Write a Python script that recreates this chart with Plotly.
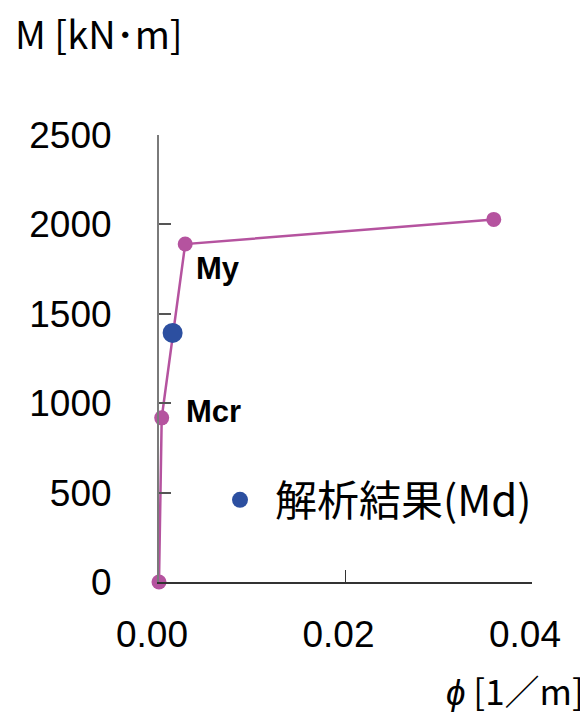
import plotly.graph_objects as go

# Data
phi_model = [0.0, 0.00029, 0.00281, 0.0359]
m_model = [0, 918, 1890, 2028]
phi_analysis = [0.00146]
m_analysis = [1393]
point_labels = ["", "Mcr", "My", ""]
x_ticks = [0.0, 0.02, 0.04]
x_tick_text = ["0.00", "0.02", "0.04"]
y_ticks = [0, 500, 1000, 1500, 2000, 2500]

MAGENTA = "#B5539F"
BLUE = "#2C4FA0"
NUM_FONT = "Liberation Sans, Arial, sans-serif"
JP_FONT = "Noto Sans CJK JP, sans-serif"

fig = go.Figure()
fig.add_trace(go.Scatter(
    x=phi_model, y=m_model, mode="lines+markers",
    line=dict(color=MAGENTA, width=2.5),
    marker=dict(color=MAGENTA, size=15),
    cliponaxis=False, showlegend=False, hoverinfo="skip",
))
fig.add_trace(go.Scatter(
    x=phi_analysis, y=m_analysis, mode="markers",
    marker=dict(color=BLUE, size=20),
    cliponaxis=False, name="解析結果(Md)", showlegend=True,
))

# point labels
shifts = {"Mcr": (22, 6), "My": (9, -24)}
for xv, yv, lab in zip(phi_model, m_model, point_labels):
    if lab:
        dx, dy = shifts[lab]
        fig.add_annotation(x=xv, y=yv, text=f"<b>{lab}</b>", showarrow=False,
                           xanchor="left", yanchor="middle", xshift=dx, yshift=dy,
                           font=dict(family=NUM_FONT, size=31, color="#000"))

# page has an 8px body margin
OFF = 8
W, H = 588 - OFF, 715 - OFF
PL, PR, PT, PB = 159, 532, 135, 582  # plot area in page pixels
L, T = PL - OFF, PT - OFF
R = W + OFF - PR
B = H + OFF - PB
pw, ph = PR - PL, PB - PT

def px(xp):
    return (xp - PL) / pw

def py(yp):
    return (PB - yp) / ph

fig.add_annotation(xref="paper", yref="paper", x=px(14), y=py(32),
                   text="M [kN･m]", showarrow=False, xanchor="left", yanchor="middle",
                   borderpad=0,
                   font=dict(family=JP_FONT, size=38, color="#000"))
fig.add_annotation(xref="paper", yref="paper", x=px(585), y=py(689),
                   text="<i>ϕ</i> [1／m]", showarrow=False, xanchor="right", yanchor="middle",
                   borderpad=0,
                   font=dict(family=JP_FONT, size=35, color="#000"))

fig.update_layout(
    width=W, height=H,
    margin=dict(l=L, r=R, t=T, b=B, pad=0),
    paper_bgcolor="white", plot_bgcolor="white",
    legend=dict(x=px(205), y=py(500), xanchor="left", yanchor="middle",
                font=dict(family=JP_FONT, size=42, color="#000"),
                itemwidth=60, bgcolor="rgba(0,0,0,0)", borderwidth=0),
    xaxis=dict(range=[0, 0.04], tickvals=x_ticks, ticktext=x_tick_text,
               showgrid=False, zeroline=False, showline=True,
               linecolor="#333333", linewidth=1.5,
               ticks="inside", ticklen=12, tickwidth=1.2, tickcolor="#333333",
               tickfont=dict(family=NUM_FONT, size=37, color="#000"),
               ticklabelstandoff=19, ticklabelshift=-7),
    yaxis=dict(range=[0, 2500], tickvals=y_ticks,
               showgrid=False, zeroline=False, showline=True,
               linecolor="#7a7a7a", linewidth=2,
               ticks="inside", ticklen=12, tickwidth=1.5, tickcolor="#555555",
               tickfont=dict(family=NUM_FONT, size=37, color="#000"),
               ticklabelstandoff=38),
    showlegend=True,
)

fig.write_html("out.html")
